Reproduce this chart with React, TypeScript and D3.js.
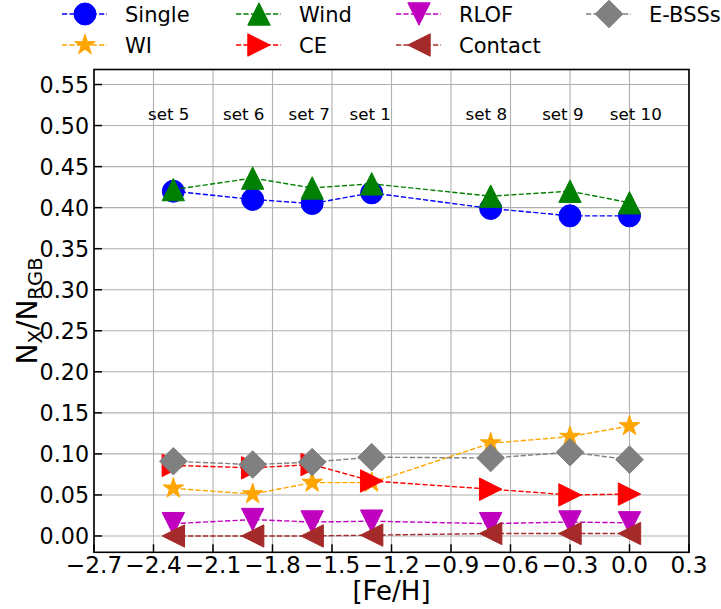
import React from 'react';
import * as d3 from 'd3';

// ---- data ----
const feH = [-2.3, -1.9, -1.6, -1.3, -0.7, -0.3, 0.0];
const setNames = ['set 5', 'set 6', 'set 7', 'set 1', 'set 8', 'set 9', 'set 10'];
const setLabelX = [-2.323, -1.945, -1.615, -1.307, -0.722, -0.336, 0.032];
const setLabelY = 0.507;

const single = [0.42, 0.41, 0.405, 0.418, 0.399, 0.39, 0.39];
const wi = [0.058, 0.051, 0.065, 0.065, 0.113, 0.121, 0.134];
const wind = [0.422, 0.436, 0.424, 0.429, 0.414, 0.42, 0.406];
const ce = [0.086, 0.083, 0.087, 0.067, 0.057, 0.05, 0.051];
const rlof = [0.015, 0.02, 0.017, 0.018, 0.015, 0.017, 0.016];
const contact = [0.0, 0.0, 0.0, 0.001, 0.003, 0.003, 0.003];
const ebss = [0.091, 0.087, 0.09, 0.096, 0.095, 0.102, 0.093];

const xTicks = [-2.7, -2.4, -2.1, -1.8, -1.5, -1.2, -0.9, -0.6, -0.3, 0.0, 0.3];
const yTicks = [0, 0.05, 0.1, 0.15, 0.2, 0.25, 0.3, 0.35, 0.4, 0.45, 0.5, 0.55];

type Marker = 'o' | '*' | '^' | '>' | 'v' | '<' | 'D';
interface Series { name: string; values: number[]; color: string; marker: Marker }

const series: Series[] = [
  { name: 'Single', values: single, color: '#0000ff', marker: 'o' },
  { name: 'WI', values: wi, color: '#ffa500', marker: '*' },
  { name: 'Wind', values: wind, color: '#008000', marker: '^' },
  { name: 'CE', values: ce, color: '#ff0000', marker: '>' },
  { name: 'RLOF', values: rlof, color: '#bf00bf', marker: 'v' },
  { name: 'Contact', values: contact, color: '#a52a2a', marker: '<' },
  { name: 'E-BSSs', values: ebss, color: '#808080', marker: 'D' },
];

const legendCols = [['Single', 'WI'], ['Wind', 'CE'], ['RLOF', 'Contact'], ['E-BSSs']];

// ---- layout ----
const W = 721, H = 609;
const L = 94, R = 689, T = 69.5, B = 552.3;
const FONT = 'DejaVu Sans, sans-serif';

const x = d3.scaleLinear().domain([-2.7, 0.3]).range([L, R]);
const y = d3.scaleLinear().domain([-0.0199, 0.5683]).range([B, T]);

function markerPath(m: Marker): string {
  const s = 11.2;
  switch (m) {
    case 'o': {
      const p = d3.path();
      p.arc(0, 0, 11, 0, Math.PI * 2);
      p.closePath();
      return p.toString();
    }
    case '^': return `M0,${-s}L${-s},${s}L${s},${s}Z`;
    case 'v': return `M0,${s}L${-s},${-s}L${s},${-s}Z`;
    case '>': return `M${s},0L${-s},${-s}L${-s},${s}Z`;
    case '<': return `M${-s},0L${s},${-s}L${s},${s}Z`;
    case 'D': { const d = 13.8; return `M0,${-d}L${d},0L0,${d}L${-d},0Z`; }
    case '*': {
      const Ro = 10.8, Ri = Ro * 0.381966;
      const pts: string[] = [];
      for (let i = 0; i < 10; i++) {
        const r = i % 2 === 0 ? Ro : Ri;
        const a = -Math.PI / 2 + (i * Math.PI) / 5;
        pts.push(`${(r * Math.cos(a)).toFixed(2)},${(r * Math.sin(a)).toFixed(2)}`);
      }
      return 'M' + pts.join('L') + 'Z';
    }
  }
  return '';
}

const line = d3.line<number>().x((_, i) => x(feH[i])).y((v) => y(v));

const fmtX = (v: number) => d3.format('.1f')(v).replace('-', '\u2212');
const fmtY = (v: number) => d3.format('.2f')(v);

export default function App() {
  const legendX = [62, 236, 396, 586];
  const legendRowY = [14, 45];
  return (
    <svg width={W} height={H} style={{ position: 'absolute', left: 0, top: 0, background: '#fff' }}
      fontFamily={FONT}>
      <rect x={0} y={0} width={W} height={H} fill="#fff" />
      {/* grid */}
      <g stroke="#b0b0b0" strokeWidth={1.1}>
        {xTicks.map((t) => <line key={'gx' + t} x1={x(t)} x2={x(t)} y1={T} y2={B} />)}
        {yTicks.map((t) => <line key={'gy' + t} x1={L} x2={R} y1={y(t)} y2={y(t)} />)}
      </g>
      {/* series */}
      {series.map((s) => (
        <g key={s.name}>
          <path d={line(s.values) || ''} fill="none" stroke={s.color} strokeWidth={1.4}
            strokeDasharray="5.2,2.2" />
          {s.values.map((v, i) => (
            <path key={i} d={markerPath(s.marker)} transform={`translate(${x(feH[i])},${y(v)})`}
              fill={s.color} stroke={s.color} strokeWidth={1} />
          ))}
        </g>
      ))}
      {/* set labels */}
      {setNames.map((n, i) => (
        <text key={n} x={x(setLabelX[i])} y={y(setLabelY)} fontSize={16.7} textAnchor="middle" fill="#000">{n}</text>
      ))}
      {/* frame */}
      <rect x={L} y={T} width={R - L} height={B - T} fill="none" stroke="#000" strokeWidth={1.6} />
      {/* ticks */}
      <g stroke="#000" strokeWidth={1.5}>
        {xTicks.map((t) => <line key={'tx' + t} x1={x(t)} x2={x(t)} y1={B} y2={B - 8} />)}
        {yTicks.map((t) => <line key={'ty' + t} x1={L} x2={L + 8} y1={y(t)} y2={y(t)} />)}
      </g>
      <g fill="#000">
        {xTicks.map((t) => (
          <text key={'lx' + t} x={x(t)} y={573} fontSize={23.2} textAnchor="middle">{fmtX(t)}</text>
        ))}
        {yTicks.map((t) => (
          <text key={'ly' + t} x={89} y={y(t) + 8} fontSize={22.2} textAnchor="end">{fmtY(t)}</text>
        ))}
      </g>
      <text x={(L + R) / 2} y={600} fontSize={26} textAnchor="middle" fill="#000">[Fe/H]</text>
      <text transform={`translate(37,${(T + B) / 2}) rotate(-90)`} fontSize={28} textAnchor="middle" fill="#000">
        <tspan>N</tspan>
        <tspan fontSize={19.6} dy={5}>X</tspan>
        <tspan dy={-5}>/N</tspan>
        <tspan fontSize={19.6} dy={5}>RGB</tspan>
      </text>
      {/* legend */}
      {legendCols.map((col, ci) => col.map((name, ri) => {
        const s = series.find((d) => d.name === name)!;
        const x0 = legendX[ci];
        const cy = legendRowY[ri];
        return (
          <g key={name}>
            <line x1={x0} x2={x0 + 45} y1={cy} y2={cy} stroke={s.color} strokeWidth={1.4} strokeDasharray="5.2,2.2" />
            <path d={markerPath(s.marker)} transform={`translate(${x0 + 23},${cy})`} fill={s.color} stroke={s.color} strokeWidth={1} />
            <text x={x0 + 63} y={cy + 7.5} fontSize={21} fill="#000">{name}</text>
          </g>
        );
      }))}
    </svg>
  );
}
